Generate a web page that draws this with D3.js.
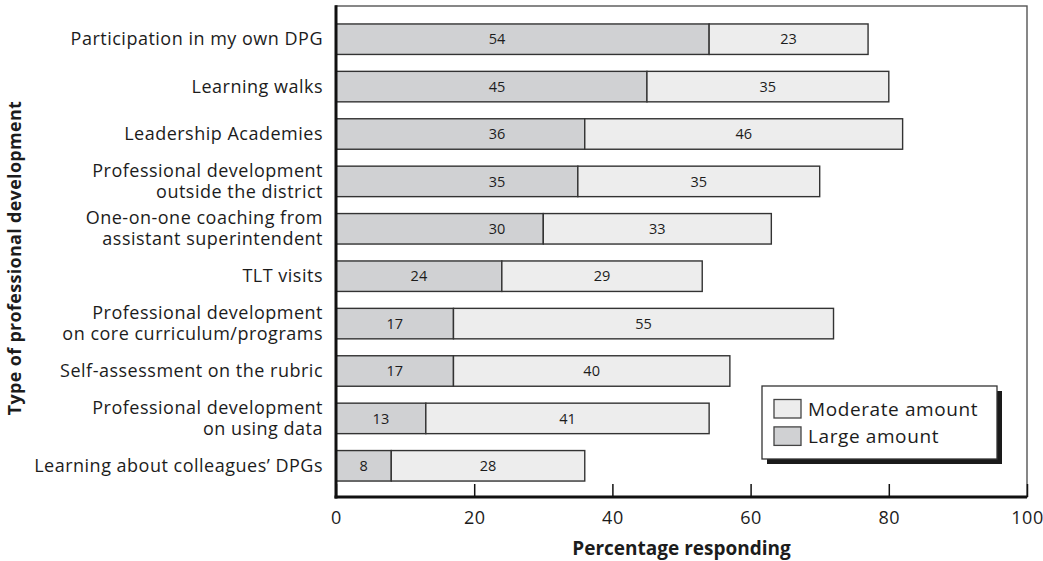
<!DOCTYPE html>
<html>
<head>
<meta charset="utf-8">
<script src="https://cdn.jsdelivr.net/npm/d3@7"></script>
<style>
  body { margin: 0; background: #fff; }
  svg { display: block; }
  text { font-family: "Open Sans", "Noto Sans", sans-serif; fill: #1c1c1c; }
</style>
</head>
<body>
<svg id="chart" width="1043" height="561"></svg>
<script>
// Survey: how much each type of professional development was experienced
const categories = [
  "Participation in my own DPG",
  "Learning walks",
  "Leadership Academies",
  "Professional development\noutside the district",
  "One-on-one coaching from\nassistant superintendent",
  "TLT visits",
  "Professional development\non core curriculum/programs",
  "Self-assessment on the rubric",
  "Professional development\non using data",
  "Learning about colleagues’ DPGs"
];
const largeAmount    = [54, 45, 36, 35, 30, 24, 17, 17, 13, 8];
const moderateAmount = [23, 35, 46, 35, 33, 29, 55, 40, 41, 28];
const xTicks = [0, 20, 40, 60, 80, 100];
const seriesKeys = ["large", "moderate"];
const seriesNames = { moderate: "Moderate amount", large: "Large amount" };

const colors = { large: "#d0d1d3", moderate: "#ededed" };

const svg = d3.select("#chart");
const plot = { left: 336, right: 1027, top: 6, bottom: 497 };

const x = d3.scaleLinear().domain([0, 100]).range([plot.left, plot.right]);
const y = d3.scaleBand()
  .domain(d3.range(categories.length))
  .range([15.5, 489.5])
  .paddingInner(0.357)
  .paddingOuter(0.1785);

const rows = categories.map((c, i) => ({ i, large: largeAmount[i], moderate: moderateAmount[i] }));
const stacked = d3.stack().keys(seriesKeys)(rows);

// frame (thin top/right edges)
svg.append("rect")
  .attr("x", plot.left).attr("y", plot.top)
  .attr("width", plot.right - plot.left).attr("height", plot.bottom - plot.top)
  .attr("fill", "none").attr("stroke", "#555").attr("stroke-width", 1.4);

// bars
svg.append("g").selectAll("g")
  .data(stacked)
  .join("g")
  .attr("fill", d => colors[d.key])
  .selectAll("rect")
  .data(d => d)
  .join("rect")
  .attr("x", d => x(d[0]))
  .attr("y", d => y(d.data.i))
  .attr("width", d => x(d[1]) - x(d[0]))
  .attr("height", y.bandwidth())
  .attr("stroke", "#333")
  .attr("stroke-width", 1.4);

// value labels: the wide "large" segments carry their number at a fixed offset
const labelFixed = 23.3;
const labels = svg.append("g").style("font-size", "14.5px").attr("text-anchor", "middle");
stacked.forEach(s => {
  labels.selectAll(null)
    .data(s)
    .join("text")
    .attr("x", d => {
      const v = d[1] - d[0];
      if (s.key === "large" && v >= 30) return x(labelFixed);
      return x((d[0] + d[1]) / 2);
    })
    .attr("y", d => y(d.data.i) + y.bandwidth() / 2)
    .attr("dy", "0.36em")
    .text(d => d[1] - d[0]);
});

// category axis
const yAxis = svg.append("g")
  .attr("transform", `translate(${plot.left},0)`)
  .call(d3.axisLeft(y).tickSize(0).tickPadding(13).tickFormat(i => categories[i]));
yAxis.select(".domain").remove();
yAxis.selectAll(".tick text")
  .style("font-size", "18px")
  .style("letter-spacing", "0.5px")
  .style("font-family", "\"Open Sans\", sans-serif")
  .attr("fill", "#1c1c1c")
  .each(function(i) {
    const t = d3.select(this);
    const lines = categories[i].split("\n");
    t.text(null).attr("dy", null);
    lines.forEach((ln, k) => {
      t.append("tspan")
        .attr("x", -13)
        .attr("dy", k === 0 ? `${0.33 - (lines.length - 1) * 0.58}em` : "1.16em")
        .text(ln);
    });
  });

// value axis
const xAxis = svg.append("g")
  .attr("transform", `translate(0,${plot.bottom})`)
  .call(d3.axisBottom(x).tickValues(xTicks).tickSizeInner(-13).tickSizeOuter(0).tickPadding(14));
xAxis.select(".domain").attr("stroke", "#111").attr("stroke-width", 3)
  .attr("d", `M${plot.left - 1.5},0H${plot.right}`);
xAxis.selectAll(".tick line").attr("stroke", "#111").attr("stroke-width", 1.5);
xAxis.selectAll(".tick text")
  .style("font-size", "18px")
  .style("letter-spacing", "0.5px")
  .style("font-family", "\"Open Sans\", sans-serif")
  .attr("fill", "#1c1c1c");

// thick left axis line
svg.append("line")
  .attr("x1", plot.left).attr("x2", plot.left)
  .attr("y1", plot.top - 0.7).attr("y2", plot.bottom + 1.5)
  .attr("stroke", "#111").attr("stroke-width", 3);

// axis titles
svg.append("text")
  .attr("x", (plot.left + plot.right) / 2).attr("y", 555)
  .attr("text-anchor", "middle")
  .style("font-size", "19px").style("font-weight", "bold")
  .text("Percentage responding");

svg.append("text")
  .attr("transform", "translate(21,258) rotate(-90)")
  .attr("text-anchor", "middle")
  .style("font-size", "18px").style("font-weight", "bold")
  .style("letter-spacing", "0.3px")
  .text("Type of professional development");

// legend
const lg = { x: 762, y: 386, w: 235, h: 73 };
const legend = svg.append("g");
legend.append("rect")
  .attr("x", lg.x + 5).attr("y", lg.y + 5).attr("width", lg.w).attr("height", lg.h)
  .attr("fill", "#1a1a1a");
legend.append("rect")
  .attr("x", lg.x).attr("y", lg.y).attr("width", lg.w).attr("height", lg.h)
  .attr("fill", "#fff").attr("stroke", "#333").attr("stroke-width", 1.3);
["moderate", "large"].forEach((k, j) => {
  const yy = lg.y + 13.5 + j * 27.4;
  legend.append("rect")
    .attr("x", lg.x + 12).attr("y", yy).attr("width", 27).attr("height", 18.5)
    .attr("fill", colors[k]).attr("stroke", "#444").attr("stroke-width", 1.3);
  legend.append("text")
    .attr("x", lg.x + 46).attr("y", yy + 9.25).attr("dy", "0.36em")
    .style("font-size", "19px")
    .style("letter-spacing", "0.6px")
    .text(seriesNames[k]);
});
</script>
</body>
</html>
